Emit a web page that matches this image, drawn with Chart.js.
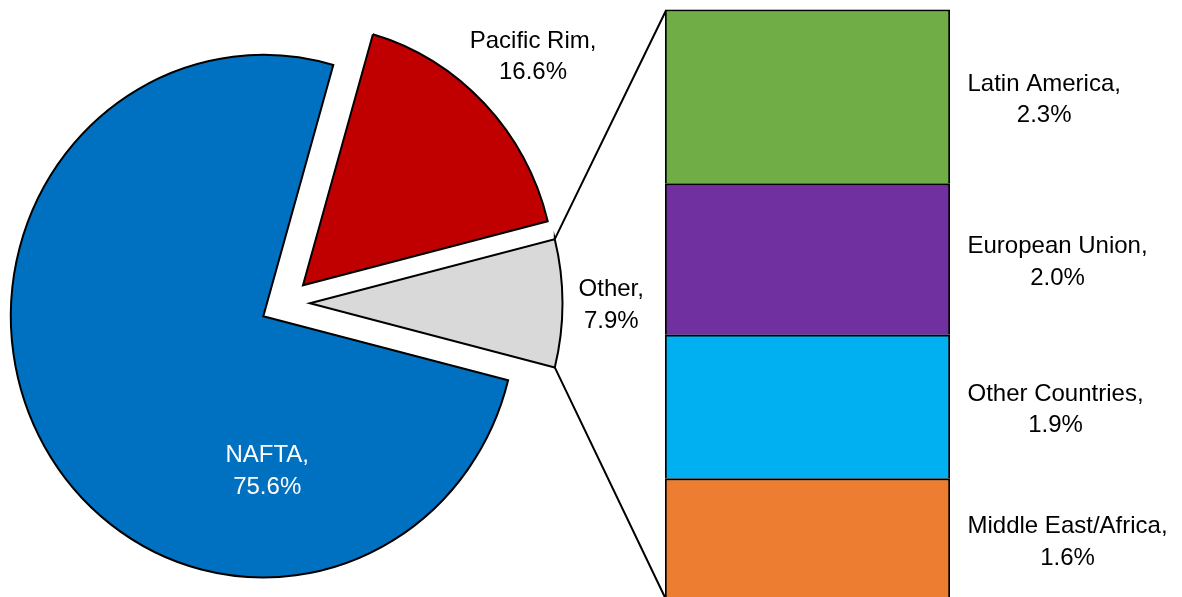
<!DOCTYPE html>
<html lang="en">
<head>
<meta charset="UTF-8">
<title>Exports by region</title>
<script src="https://cdn.jsdelivr.net/npm/chart.js@4.4.1/dist/chart.umd.min.js"></script>
<style>
  html, body { margin: 0; padding: 0; background: #fff; overflow: hidden; }
  #wrap { position: relative; width: 1182px; height: 597px; overflow: hidden; }
  #wrap canvas { position: absolute; left: 0; top: 0; }
</style>
</head>
<body>
<div id="wrap">
  <canvas id="pie" width="700" height="597"></canvas>
  <canvas id="bar" width="1182" height="600"></canvas>
</div>
<script>
const pieLabels = ['NAFTA', 'Pacific Rim', 'Other'];
const pieValues = [75.6, 16.6, 7.9];
const pieColors = ['#0070C0', '#C00000', '#D9D9D9'];

// breakdown of "Other", top to bottom as shown in the bar
const otherLabels = ['Latin America', 'European Union', 'Other Countries', 'Middle East/Africa'];
const otherValues = [2.3, 2.0, 1.9, 1.6];
const otherColors = ['#70AD47', '#7030A0', '#00B0F0', '#ED7D31'];

const FONT = "24px 'Liberation Sans', Arial, sans-serif";
const EXPLODE = 25;   // how far each slice is pulled out
const SY = 1.035;     // pie in the original is slightly taller than wide

function pct(v) { return v.toFixed(1) + '%'; }

function drawLabel(ctx, lines, cx, cy, color) {
    ctx.save();
    ctx.font = FONT;
    ctx.fillStyle = color;
    ctx.textAlign = 'center';
    ctx.textBaseline = 'alphabetic';
    ctx.fillText(lines[0], cx, cy - 7.3);
    ctx.fillText(lines[1], cx, cy + 24.3);
    ctx.restore();
}

// point relative to an exploded slice, in page pixels
function slicePoint(arc, angle, dist) {
    const mid = (arc.startAngle + arc.endAngle) / 2;
    const x = arc.x + Math.cos(mid) * EXPLODE + Math.cos(angle) * dist;
    const y = arc.y + Math.sin(mid) * EXPLODE + Math.sin(angle) * dist;
    return { x: x, y: arc.y + (y - arc.y) * SY };
}

const explodedPie = {
    id: 'explodedPie',
    beforeDatasetsDraw(chart) {
        const ctx = chart.ctx;
        chart.getDatasetMeta(0).data.forEach(arc => {
            const mid = (arc.startAngle + arc.endAngle) / 2;
            ctx.save();
            ctx.translate(arc.x, arc.y);
            ctx.scale(1, SY);
            ctx.translate(-arc.x, -arc.y);
            ctx.translate(Math.cos(mid) * EXPLODE, Math.sin(mid) * EXPLODE);
            arc.draw(ctx);
            ctx.restore();
        });
        return false;
    },
    afterDraw(chart) {
        const ctx = chart.ctx;
        // [angle or null for slice middle, distance as share of radius]
        const spots = [[88.5 * Math.PI / 180, 0.587], [null, 1.268], [null, 1.193]];
        chart.getDatasetMeta(0).data.forEach((arc, i) => {
            const mid = (arc.startAngle + arc.endAngle) / 2;
            const a = spots[i][0] === null ? mid : spots[i][0];
            const p = slicePoint(arc, a, spots[i][1] * arc.outerRadius);
            drawLabel(ctx, [pieLabels[i] + ',', pct(pieValues[i])], p.x, p.y, i === 0 ? '#fff' : '#000');
        });
    }
};

const pieChart = new Chart(document.getElementById('pie'), {
    type: 'pie',
    data: {
        labels: pieLabels,
        datasets: [{
            data: pieValues,
            backgroundColor: pieColors,
            borderColor: '#000',
            borderWidth: 2,
            borderJoinStyle: 'miter'
        }]
    },
    options: {
        responsive: false,
        animation: false,
        events: [],
        rotation: 104.2,
        radius: 252.5,
        layout: { padding: { left: 0, right: 130, top: 9.6, bottom: 0 } },
        plugins: { legend: { display: false }, tooltip: { enabled: false } }
    },
    plugins: [explodedPie]
});

const barExtras = {
    id: 'barExtras',
    beforeDatasetsDraw(chart) {
        // lines from the "Other" slice to the bar
        const ctx = chart.ctx;
        const arc = pieChart.getDatasetMeta(0).data[2];
        const a = slicePoint(arc, arc.startAngle, arc.outerRadius);
        const b = slicePoint(arc, arc.endAngle, arc.outerRadius);
        const topBar = chart.getDatasetMeta(chart.data.datasets.length - 1).data[0];
        const lowBar = chart.getDatasetMeta(0).data[0];
        const left = topBar.x - topBar.width / 2 + 1;
        ctx.save();
        ctx.strokeStyle = '#000';
        ctx.lineWidth = 2;
        ctx.beginPath();
        ctx.moveTo(a.x, a.y);
        ctx.lineTo(left, topBar.y + 1);
        ctx.moveTo(b.x, b.y);
        ctx.lineTo(left, lowBar.base);
        ctx.stroke();
        ctx.restore();
    },
    afterDraw(chart) {
        const ctx = chart.ctx;
        chart.data.datasets.forEach((ds, i) => {
            const bar = chart.getDatasetMeta(i).data[0];
            const lines = [ds.label + ',', pct(ds.data[0])];
            ctx.font = FONT;
            const w = Math.max(...lines.map(l => ctx.measureText(l).width));
            const x = bar.x + bar.width / 2 + 17.5 + w / 2;
            const y = (bar.y + bar.base) / 2 + 1.5;
            drawLabel(ctx, lines, x, y, '#000');
        });
    }
};

const barSets = otherLabels.map((name, i) => ({
    label: name,
    data: [otherValues[i]],
    backgroundColor: otherColors[i],
    borderColor: '#000',
    borderWidth: 2
})).reverse();

const barChart = new Chart(document.getElementById('bar'), {
    type: 'bar',
    data: { labels: ['Other'], datasets: barSets },
    options: {
        responsive: false,
        animation: false,
        events: [],
        layout: { padding: { left: 665, right: 232, top: 9.5, bottom: 0.5 } },
        datasets: { bar: { barPercentage: 1, categoryPercentage: 1 } },
        scales: {
            x: { stacked: true, display: false },
            y: { stacked: true, display: false, min: 0, max: otherValues.reduce((s, v) => s + v, 0) }
        },
        plugins: { legend: { display: false }, tooltip: { enabled: false } }
    },
    plugins: [barExtras]
});
</script>
</body>
</html>
